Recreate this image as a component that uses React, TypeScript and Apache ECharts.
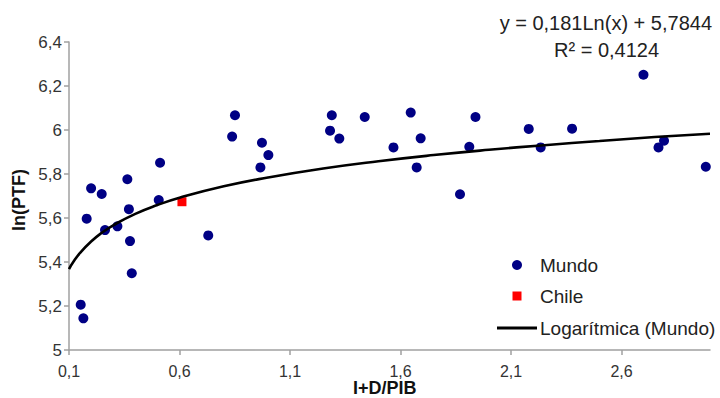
import React, { useEffect, useRef } from "react";
import * as echarts from "echarts";

// Mundo scatter points (I+D/PIB, ln(PTF))
const mundoX = [0.512, 0.200, 0.248, 0.364, 0.506, 0.180, 0.371, 0.263, 0.319, 0.376, 0.730, 0.384, 0.153, 0.165, 0.851, 0.838, 0.973, 1.002, 0.966, 1.289, 1.281, 1.323, 1.438, 1.646, 1.568, 1.691, 1.673, 1.939, 1.911, 1.869, 2.180, 2.234, 2.376, 2.699, 2.767, 2.792, 2.981];
const mundoY = [5.851, 5.735, 5.709, 5.776, 5.682, 5.597, 5.640, 5.545, 5.562, 5.495, 5.521, 5.349, 5.206, 5.144, 6.067, 5.970, 5.942, 5.886, 5.830, 6.067, 5.997, 5.961, 6.059, 6.079, 5.921, 5.962, 5.830, 6.059, 5.924, 5.708, 6.005, 5.921, 6.006, 6.251, 5.921, 5.951, 5.833];

// Chile point
const chileX = [0.611];
const chileY = [5.674];

// Logarithmic trend line
const trendX = [0.1, 0.12, 0.15, 0.2, 0.25, 0.3, 0.4, 0.5, 0.6, 0.8, 1.0, 1.25, 1.5, 1.75, 2.0, 2.25, 2.5, 2.75, 3.0];
const trendY = [5.368, 5.401, 5.441, 5.493, 5.534, 5.567, 5.619, 5.659, 5.692, 5.744, 5.784, 5.825, 5.858, 5.886, 5.910, 5.931, 5.950, 5.968, 5.983];

// Tick labels
const xTicks = [0.1, 0.6, 1.1, 1.6, 2.1, 2.6];

// Legend entries
const legendNames = ["Mundo", "Chile", "Logarítmica (Mundo)"];

const equationText = "y = 0,181Ln(x) + 5,7844";
const r2Text = "R² = 0,4124";
const xTitle = "I+D/PIB";
const yTitle = "ln(PTF)";

const FONT = "Liberation Sans, Arial, Helvetica, sans-serif";
const NAVY = "#000084";

const fmt = (v: number) => String(Number(v.toFixed(1))).replace(".", ",");

export default function App() {
  const ref = useRef<HTMLDivElement>(null);
  useEffect(() => {
    if (!ref.current) return;
    const chart = echarts.init(ref.current, undefined, { renderer: "svg" });
    const legendRowY = [265, 296, 328];
    chart.setOption({
      animation: false,
      backgroundColor: "#ffffff",
      textStyle: { fontFamily: FONT },
      grid: { left: 69, right: 10, top: 42, bottom: 48, containLabel: false },
      xAxis: {
        type: "value",
        min: 0.1,
        max: 3.0,
        splitLine: { show: false },
        axisLine: { show: true, lineStyle: { color: "#a0a0a0", width: 1.5 } },
        axisTick: { show: true, length: 5, customValues: xTicks, lineStyle: { color: "#a0a0a0", width: 1.5 } },
        axisLabel: { customValues: xTicks, formatter: (v: number) => fmt(v), color: "#333", fontSize: 16, margin: 13, fontFamily: FONT },
      },
      yAxis: {
        type: "value",
        min: 5,
        max: 6.4,
        interval: 0.2,
        splitLine: { show: false },
        axisLine: { show: true, lineStyle: { color: "#a0a0a0", width: 1.5 } },
        axisTick: { show: true, length: 5, lineStyle: { color: "#a0a0a0", width: 1.5 } },
        axisLabel: { formatter: (v: number) => fmt(v), color: "#333", fontSize: 17, margin: 7, fontFamily: FONT },
      },
      series: [
        {
          name: legendNames[0],
          type: "scatter",
          symbol: "circle",
          symbolSize: 10,
          itemStyle: { color: NAVY, opacity: 1 },
          data: mundoX.map((x, i) => [x, mundoY[i]]),
          z: 2,
        },
        {
          name: legendNames[1],
          type: "scatter",
          symbol: "rect",
          symbolSize: 9,
          itemStyle: { color: "#ff0000", opacity: 1 },
          data: chileX.map((x, i) => [x, chileY[i]]),
          z: 2,
        },
        {
          name: legendNames[2],
          type: "line",
          smooth: true,
          symbol: "none",
          lineStyle: { color: "#000000", width: 2.6 },
          data: trendX.map((x, i) => [x, trendY[i]]),
          z: 3,
        },
      ],
      graphic: [
        {
          type: "text",
          right: 8,
          top: 13,
          style: { text: equationText, fontSize: 20, fill: "#222", fontFamily: FONT },
        },
        {
          type: "text",
          left: 554,
          top: 40,
          style: { text: r2Text, fontSize: 20, fill: "#222", fontFamily: FONT },
        },
        {
          type: "text",
          left: 353,
          top: 379,
          style: { text: xTitle, fontSize: 18, fontWeight: "bold", fill: "#111", fontFamily: FONT },
        },
        {
          type: "text",
          x: 19,
          y: 200,
          rotation: Math.PI / 2,
          style: { text: yTitle, fontSize: 18, fontWeight: "bold", fill: "#111", fontFamily: FONT, align: "center", verticalAlign: "middle" },
        },
        // Legend
        { type: "circle", shape: { cx: 517, cy: legendRowY[0], r: 5 }, style: { fill: NAVY } },
        { type: "rect", shape: { x: 512.5, y: legendRowY[1] - 4.5, width: 9, height: 9 }, style: { fill: "#ff0000" } },
        { type: "line", shape: { x1: 497, y1: legendRowY[2], x2: 537, y2: legendRowY[2] }, style: { stroke: "#000", lineWidth: 3 } },
        ...legendNames.map((n, i) => ({
          type: "text",
          x: 540,
          y: legendRowY[i],
          style: { text: n, fontSize: 19, fill: "#222", fontFamily: FONT, verticalAlign: "middle" },
        })),
      ],
    });
    return () => chart.dispose();
  }, []);
  return <div ref={ref} style={{ position: "fixed", left: 0, top: 0, width: 720, height: 398 }} />;
}
